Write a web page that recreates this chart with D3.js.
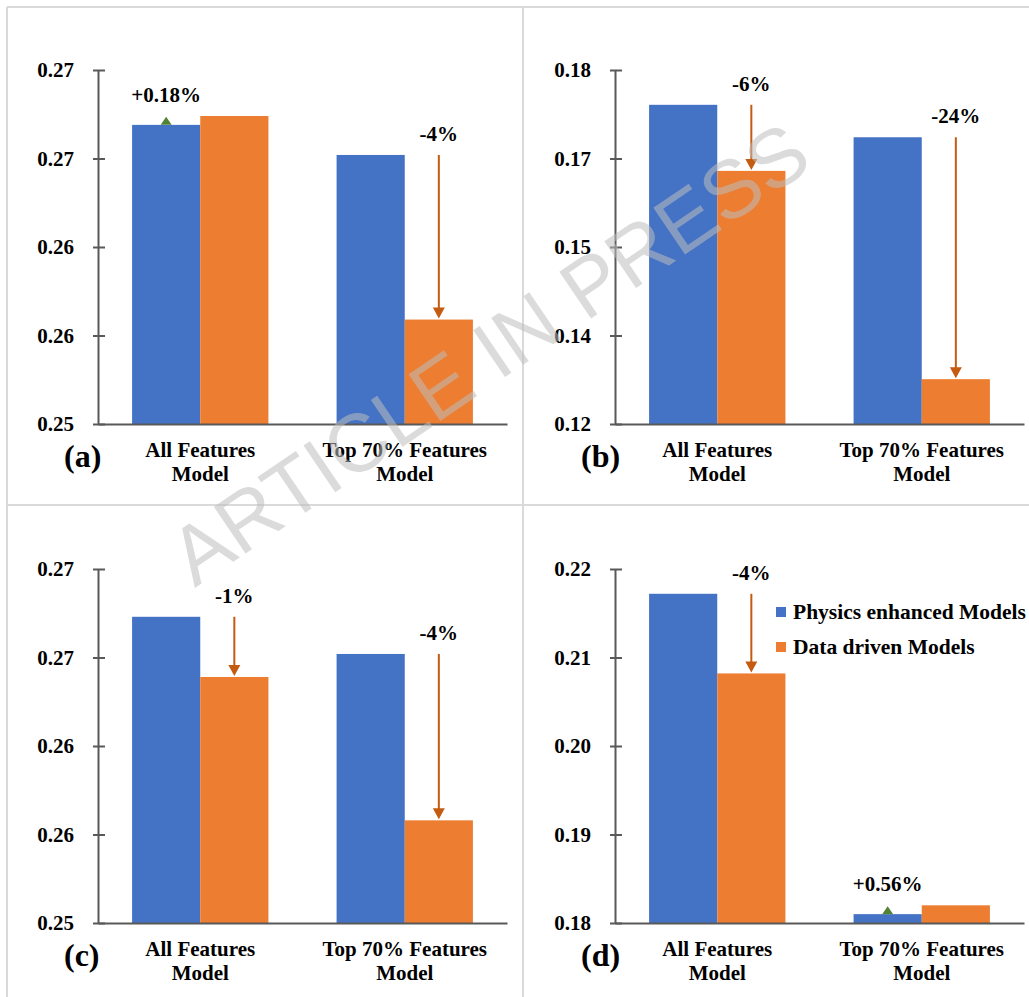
<!DOCTYPE html>
<html>
<head>
<meta charset="utf-8">
<script src="https://cdn.jsdelivr.net/npm/d3@7"></script>
<style>
  html, body { margin: 0; padding: 0; background: #ffffff; }
  svg { display: block; }
</style>
</head>
<body>
<svg id="chart" width="1029" height="997"></svg>
<script>
// ---- data ----
const categories = [["All Features", "Model"], ["Top 70% Features", "Model"]];
const seriesNames = ["Physics enhanced Models", "Data driven Models"];
const panelLetters = ["(a)", "(b)", "(c)", "(d)"];

// physics enhanced / data driven values, per panel, per category
const physicsA = [0.2669, 0.2652];
const dataA    = [0.2674, 0.2559];
const physicsB = [0.1741, 0.1686];
const dataB    = [0.1629, 0.1276];
const physicsC = [0.2673, 0.2652];
const dataC    = [0.2639, 0.2558];
const physicsD = [0.2172, 0.1810];
const dataD    = [0.2082, 0.1820];

// relative change of the data driven model against the physics enhanced one
const changeA = ["+0.18%", "-4%"];
const changeB = ["-6%", "-24%"];
const changeC = ["-1%", "-4%"];
const changeD = ["-4%", "+0.56%"];

// y axes
const ticksA = [0.25, 0.255, 0.26, 0.265, 0.27];
const tickLabelsA = ["0.25", "0.26", "0.26", "0.27", "0.27"];
const ticksB = [0.12, 0.135, 0.15, 0.165, 0.18];
const tickLabelsB = ["0.12", "0.14", "0.15", "0.17", "0.18"];
const ticksC = [0.25, 0.255, 0.26, 0.265, 0.27];
const tickLabelsC = ["0.25", "0.26", "0.26", "0.27", "0.27"];
const ticksD = [0.18, 0.19, 0.20, 0.21, 0.22];
const tickLabelsD = ["0.18", "0.19", "0.20", "0.21", "0.22"];

const panels = [
  { letter: panelLetters[0], physics: physicsA, data: dataA, change: changeA, ticks: ticksA, labels: tickLabelsA, ox: 0,   oy: 0,   legend: false },
  { letter: panelLetters[1], physics: physicsB, data: dataB, change: changeB, ticks: ticksB, labels: tickLabelsB, ox: 517, oy: 0,   legend: false },
  { letter: panelLetters[2], physics: physicsC, data: dataC, change: changeC, ticks: ticksC, labels: tickLabelsC, ox: 0,   oy: 499, legend: false },
  { letter: panelLetters[3], physics: physicsD, data: dataD, change: changeD, ticks: ticksD, labels: tickLabelsD, ox: 517, oy: 499, legend: true }
];

// ---- styles ----
const colors = { physics: "#4472C4", data: "#ED7D31", arrow: "#C55A11", up: "#548235", axis: "#595959", border: "#dadada" };
const font = "'Liberation Serif', 'Times New Roman', serif";

const svg = d3.select("#chart");
svg.append("rect").attr("width", 1029).attr("height", 997).attr("fill", "#fff");

// panel frame lines
const frame = svg.append("g").attr("stroke", colors.border).attr("stroke-width", 2);
frame.append("line").attr("x1", 7).attr("x2", 1029).attr("y1", 7).attr("y2", 7);
frame.append("line").attr("x1", 7).attr("x2", 1029).attr("y1", 505).attr("y2", 505);
frame.append("line").attr("x1", 7).attr("x2", 7).attr("y1", 7).attr("y2", 997);
frame.append("line").attr("x1", 523).attr("x2", 523).attr("y1", 7).attr("y2", 997);

// plot geometry inside each panel
const plotLeft = 98, plotWidth = 409, plotTop = 70, plotBottom = 424;

panels.forEach(p => {
  const g = svg.append("g").attr("transform", `translate(${p.ox + plotLeft},${p.oy})`);

  const x = d3.scaleBand().domain(d3.range(categories.length)).range([0, plotWidth])
    .paddingInner(1 / 3).paddingOuter(1 / 6);
  const xs = d3.scaleBand().domain(["physics", "data"]).range([0, x.bandwidth()]);
  const y = d3.scaleLinear().domain([p.ticks[0], p.ticks[p.ticks.length - 1]]).range([plotBottom, plotTop]);

  const rows = categories.map((c, i) => ({ i, physics: p.physics[i], data: p.data[i], change: p.change[i] }));

  // bars
  const groups = g.selectAll("g.cat").data(rows).join("g")
    .attr("class", "cat")
    .attr("transform", d => `translate(${x(d.i)},0)`);
  groups.selectAll("rect").data(d => ["physics", "data"].map(k => ({ k, v: d[k] }))).join("rect")
    .attr("x", d => xs(d.k))
    .attr("width", xs.bandwidth())
    .attr("y", d => y(d.v))
    .attr("height", d => y.range()[0] - y(d.v))
    .attr("fill", d => colors[d.k]);

  // change annotations: green marker for a gain, arrow down for a loss
  groups.each(function (d) {
    const grp = d3.select(this);
    const px = xs("physics") + xs.bandwidth() / 2;
    const dx = xs("data") + xs.bandwidth() / 2;
    if (d.data >= d.physics) {
      const top = y(d.physics);
      grp.append("path")
        .attr("d", `M${px - 5.5},${top} L${px + 5.5},${top} L${px},${top - 8} Z`)
        .attr("fill", colors.up);
      grp.append("text")
        .attr("x", px).attr("y", top - 23)
        .attr("text-anchor", "middle")
        .attr("font-family", font).attr("font-weight", "bold").attr("font-size", 21)
        .text(d.change);
    } else {
      const y0 = y(d.physics), tip = y(d.data) - 1;
      grp.append("line")
        .attr("x1", dx).attr("x2", dx)
        .attr("y1", y0).attr("y2", tip - 8)
        .attr("stroke", colors.arrow).attr("stroke-width", 2);
      grp.append("path")
        .attr("d", `M${dx - 6},${tip - 11} L${dx + 6},${tip - 11} L${dx},${tip} Z`)
        .attr("fill", colors.arrow);
      grp.append("text")
        .attr("x", dx).attr("y", y0 - 14)
        .attr("text-anchor", "middle")
        .attr("font-family", font).attr("font-weight", "bold").attr("font-size", 21)
        .text(d.change);
    }
  });

  // y axis
  const yAxis = d3.axisLeft(y)
    .tickValues(p.ticks)
    .tickFormat((d, i) => p.labels[i])
    .tickSizeInner(5).tickSizeOuter(0).tickPadding(19);
  const ya = g.append("g").call(yAxis);
  ya.select(".domain").attr("stroke", colors.axis).attr("stroke-width", 2);
  ya.selectAll(".tick line").attr("stroke", colors.axis).attr("stroke-width", 2).attr("x1", 7);
  ya.selectAll(".tick text")
    .attr("font-family", font).attr("font-weight", "bold").attr("font-size", 21)
    .attr("fill", "#000");

  // x axis baseline
  const xa = g.append("g").attr("transform", `translate(0,${plotBottom})`)
    .call(d3.axisBottom(x).tickSize(0).tickFormat(""));
  xa.select(".domain").attr("stroke", colors.axis).attr("stroke-width", 2);

  // category labels
  const cl = g.selectAll("text.cat").data(categories).join("text")
    .attr("class", "cat")
    .attr("text-anchor", "middle")
    .attr("font-family", font).attr("font-weight", "bold").attr("font-size", 21)
    .attr("transform", (d, i) => `translate(${x(i) + x.bandwidth() / 2},${plotBottom + 33})`);
  cl.selectAll("tspan").data(d => d).join("tspan")
    .attr("x", 0)
    .attr("dy", (d, i) => i === 0 ? 0 : 24)
    .text(d => d);

  // panel letter
  g.append("text")
    .attr("x", -34).attr("y", plotBottom + 43)
    .attr("font-family", font).attr("font-weight", "bold").attr("font-size", 32)
    .text(p.letter);

  // legend
  if (p.legend) {
    const lg = g.append("g").attr("transform", "translate(161,108)");
    const items = lg.selectAll("g").data(seriesNames).join("g")
      .attr("transform", (d, i) => `translate(0,${i * 35})`);
    items.append("rect").attr("width", 10).attr("height", 10)
      .attr("fill", (d, i) => i === 0 ? colors.physics : colors.data);
    items.append("text")
      .attr("x", 17).attr("y", 12)
      .attr("font-family", font).attr("font-weight", "bold").attr("font-size", 21.5)
      .text(d => d);
  }
});

// "ARTICLE IN PRESS" overlay
svg.append("text")
  .attr("transform", "translate(505,377) rotate(-34.2)")
  .attr("text-anchor", "middle")
  .attr("font-family", "'Liberation Sans', Arial, sans-serif")
  .attr("font-size", 82)
  .attr("fill", "#bdbdbd")
  .attr("fill-opacity", 0.55)
  .text("ARTICLE IN PRESS");
</script>
</body>
</html>
